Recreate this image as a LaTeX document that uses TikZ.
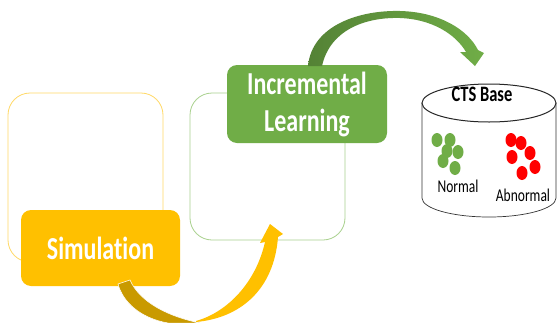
\documentclass[tikz,border=0pt]{standalone}
\usepackage{fontspec}
\setmainfont{Carlito}[FakeStretch=0.75, Ligatures=NoCommon]
\definecolor{simfill}{HTML}{FFC000}
\definecolor{simdark}{HTML}{C99A00}
\definecolor{simline}{HTML}{FFD966}
\definecolor{incfill}{HTML}{70AD47}
\definecolor{incdark}{HTML}{548235}
\definecolor{incline}{HTML}{A9D18E}
\definecolor{abnred}{HTML}{FF0000}

\begin{document}
\begin{tikzpicture}[x=1pt,y=-1pt,
    frame/.style={draw, rounded corners=22pt, line width=0.8pt, inner sep=0pt},
    stagebox/.style={rounded corners=10pt, inner sep=0pt, text=white, align=center,
      font=\bfseries\fontsize{32}{37}\selectfont},
    dbtitle/.style={inner sep=0pt, font=\bfseries\fontsize{22}{24}\selectfont},
    dblabel/.style={inner sep=0pt, font=\fontsize{18}{20}\selectfont}]
  \useasboundingbox[fill=white] (0,0) rectangle (558,322);
  % outlines behind the stages
  \node[frame, draw=simline, minimum width=155pt, minimum height=169pt] (simframe) at (85.5,177.5) {};
  \node[frame, draw=incline, minimum width=155pt, minimum height=147pt] (incframe) at (267.5,166.5) {};
  % stages
  \node[stagebox, fill=simfill, minimum width=159pt, minimum height=76pt] (sim) at (100.5,248) {Simulation};
  \node[stagebox, fill=incfill, minimum width=160pt, minimum height=78pt] (inc) at (307,104) {Incremental\\Learning};
  % curved arrow simulation -> learning
  \fill[simdark, draw=white, line width=0.5pt] (118,284) .. controls (123,302) and (140,318) .. (168,323)
    -- (200,323) .. controls (170,317) and (140,303) .. (130,280) -- cycle;
  \fill[simfill] (196,322) .. controls (240,318) and (274,290) .. (278,237) -- (283,234) -- (270,224)
    -- (260,243) -- (265,242) .. controls (256,282) and (228,312) .. (196,321) -- cycle;
  % curved arrow learning -> base
  \shade[left color=incdark, right color=incfill] (308,66) .. controls (312,25) and (360,10) .. (400,11)
    .. controls (440,12) and (468,30) .. (478,50) -- (484,53) -- (475,66) -- (460,52) -- (466,52)
    .. controls (455,33) and (430,19) .. (400,18) .. controls (365,17) and (330,30) .. (322,66) -- cycle;
  % CTS base cylinder
  \draw[black!80, fill=white, line width=0.7pt] (422,103) -- (422,198) arc[start angle=180, end angle=0, x radius=67, y radius=19] -- (556,103);
  \draw[black!85, fill=white, line width=1pt] (489,103) ellipse[x radius=67, y radius=19];
  \node[dbtitle] (base) at (482,94) {CTS Base};
  \foreach \x/\y in {437/140, 450/140, 447/151, 458/152, 443/161, 455/168}
    \fill[incfill] (\x,\y) ellipse[x radius=5.5, y radius=7];
  \foreach \x/\y in {511/140, 521/143, 530/153, 512/157, 535/167, 522/173}
    \fill[abnred] (\x,\y) ellipse[x radius=5.5, y radius=7];
  \node[dblabel] (normal) at (458,186) {Normal};
  \node[dblabel] (abnormal) at (523,195) {Abnormal};
\end{tikzpicture}
\end{document}
